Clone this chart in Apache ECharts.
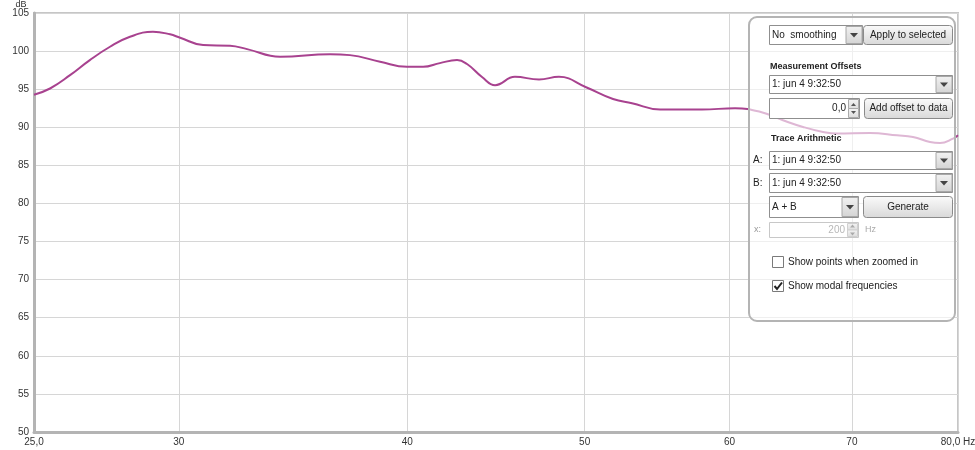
<!DOCTYPE html>
<html>
<head>
<meta charset="utf-8">
<script src="https://cdn.jsdelivr.net/npm/echarts@6/dist/echarts.min.js"></script>
<style>
html,body{margin:0;padding:0;background:#fff;}
#chart{width:975px;height:450px;}
</style>
</head>
<body>
<div id="chart"></div>
<script>
// Frequency (Hz) and SPL (dB)
const freqs = [25, 25.51, 26.16, 26.82, 27.51, 28.21, 29.04, 29.67, 30.05, 30.93, 32.0, 32.69, 34.08, 36.29, 37.21, 38.65, 39.98, 40.8, 41.67, 42.58, 43.12, 43.94, 44.67, 45.8, 47.21, 48.41, 50.09, 51.82, 53.07, 54.98, 57.96, 60.42, 62.35, 64.18, 65.82, 67.5, 68.7, 71.61, 74.09, 75.59, 77.23, 78.21, 79.5, 80];
const spl = [94.28, 95.09, 96.84, 98.82, 100.57, 101.88, 102.54, 102.2, 101.75, 100.79, 100.7, 100.26, 99.25, 99.57, 99.47, 98.59, 97.93, 97.93, 98.42, 98.82, 98.3, 96.6, 95.53, 96.62, 96.28, 96.62, 95.26, 93.71, 93.16, 92.33, 92.33, 92.5, 92.04, 90.92, 90.04, 89.38, 89.17, 89.25, 88.95, 88.72, 88.07, 87.93, 88.51, 88.95];
const xTicks = [25, 30, 40, 50, 60, 70, 80];
const yMin = 50, yMax = 105, yStep = 5;

const chart = echarts.init(document.getElementById('chart'), null, {renderer: 'canvas'});
const FONT = '"Liberation Sans", Arial, sans-serif';
const TXT = '#222';

function grad(c1, c2) {
  return {type: 'linear', x: 0, y: 0, x2: 0, y2: 1, colorStops: [{offset: 0, color: c1}, {offset: 1, color: c2}]};
}
function text(x, y, s, opt) {
  opt = opt || {};
  return {type: 'text', z: 110, style: {x: x, y: y, text: s, fill: opt.fill || TXT,
    font: (opt.bold ? 'bold ' : '') + (opt.size || 10) + 'px ' + FONT,
    align: opt.align || 'left', verticalAlign: 'middle'}};
}
function arrowBtn(x, y, w, h) {
  const cx = x + w / 2, cy = y + h / 2;
  return [
    {type: 'rect', z: 105, shape: {x: x, y: y, width: w, height: h}, style: {fill: grad('#f2f2f2', '#d4d4d4'), stroke: '#a8a8a8', lineWidth: 1}},
    {type: 'polygon', z: 106, shape: {points: [[cx - 4, cy - 2], [cx + 4, cy - 2], [cx, cy + 2.5]]}, style: {fill: '#444'}}
  ];
}
function combo(x, y, w, h, s) {
  return [
    {type: 'rect', z: 104, shape: {x: x + 0.5, y: y + 0.5, width: w, height: h}, style: {fill: '#fff', stroke: '#8f8f8f', lineWidth: 1}},
    text(x + 3, y + h / 2 + 0.5, s)
  ].concat(arrowBtn(x + w - 16, y + 1.5, 16, h - 2));
}
function button(x, y, w, h, s) {
  return [
    {type: 'rect', z: 104, shape: {x: x + 0.5, y: y + 0.5, width: w, height: h, r: 3}, style: {fill: grad('#fbfbfb', '#d8d8d8'), stroke: '#8a8a8a', lineWidth: 1}},
    text(x + w / 2 + 0.5, y + h / 2 + 0.5, s, {align: 'center'})
  ];
}
function spinner(x, y, w, h, s, disabled) {
  const bx = x + w - 11, mid = y + h / 2;
  const col = disabled ? '#c8c8c8' : '#8f8f8f';
  return [
    {type: 'rect', z: 104, shape: {x: x + 0.5, y: y + 0.5, width: w, height: h}, style: {fill: '#fff', stroke: col, lineWidth: 1}},
    text(bx - 2, mid + 0.5, s, {align: 'right', fill: disabled ? '#b8b8b8' : TXT}),
    {type: 'rect', z: 105, shape: {x: bx + 0.5, y: y + 1.5, width: 10, height: h / 2 - 1}, style: {fill: grad('#f4f4f4', '#dcdcdc'), stroke: disabled ? '#d0d0d0' : '#aaa', lineWidth: 1}},
    {type: 'rect', z: 105, shape: {x: bx + 0.5, y: mid + 0.5, width: 10, height: h / 2 - 1}, style: {fill: grad('#f4f4f4', '#dcdcdc'), stroke: disabled ? '#d0d0d0' : '#aaa', lineWidth: 1}},
    {type: 'polygon', z: 106, shape: {points: [[bx + 3, mid - 2], [bx + 8, mid - 2], [bx + 5.5, mid - 5]]}, style: {fill: disabled ? '#aaa' : '#555'}},
    {type: 'polygon', z: 106, shape: {points: [[bx + 3, mid + 3], [bx + 8, mid + 3], [bx + 5.5, mid + 6]]}, style: {fill: disabled ? '#aaa' : '#555'}}
  ];
}
function checkbox(x, y, s, checked) {
  const arr = [
    {type: 'rect', z: 104, shape: {x: x + 0.5, y: y + 0.5, width: 11, height: 11}, style: {fill: '#fff', stroke: '#7a7a7a', lineWidth: 1}},
    text(x + 16, y + 6.5, s)
  ];
  if (checked) {
    arr.push({type: 'polyline', z: 106, shape: {points: [[x + 2.5, y + 6], [x + 5, y + 9], [x + 10, y + 2.5]]}, style: {stroke: '#222', lineWidth: 2, fill: null}});
  }
  return arr;
}

let panel = [
  {type: 'rect', z: 100, shape: {x: 749, y: 17, width: 206, height: 304, r: 8}, style: {fill: 'rgba(255,255,255,0.62)', stroke: '#b4b4b4', lineWidth: 2}}
];
panel = panel
  .concat(combo(769, 25, 93, 19, 'No  smoothing'))
  .concat(button(863, 25, 89, 19, 'Apply to selected'))
  .concat([text(770, 67, 'Measurement Offsets', {bold: true, size: 9})])
  .concat(combo(769, 75, 183, 18, '1: jun 4 9:32:50'))
  .concat(spinner(769, 98, 90, 20, '0,0', false))
  .concat(button(864, 98, 88, 20, 'Add offset to data'))
  .concat([text(771, 139, 'Trace Arithmetic', {bold: true, size: 9})])
  .concat([text(753, 160, 'A:')])
  .concat(combo(769, 151, 183, 18, '1: jun 4 9:32:50'))
  .concat([text(753, 183, 'B:')])
  .concat(combo(769, 173, 183, 19, '1: jun 4 9:32:50'))
  .concat(combo(769, 196, 89, 21, 'A + B'))
  .concat(button(863, 196, 89, 21, 'Generate'))
  .concat([text(754, 229.5, 'x:', {fill: '#999', size: 9})])
  .concat(spinner(769, 222, 89, 15, '200', true))
  .concat([text(865, 229.5, 'Hz', {fill: '#aaa', size: 9})])
  .concat(checkbox(772, 256, 'Show points when zoomed in', false))
  .concat(checkbox(772, 280, 'Show modal frequencies', true))
  .concat([{type: 'text', z: 50, style: {x: 21, y: 5, text: 'dB', fill: '#333', font: '9px ' + FONT, align: 'center', verticalAlign: 'middle'}}]);

const option = {
  animation: false,
  backgroundColor: '#fff',
  grid: {left: 34, right: 17, top: 13, bottom: 18, show: true, borderColor: '#c6c6c6', borderWidth: 2, backgroundColor: 'transparent', containLabel: false, outerBoundsMode: 'none'},
  xAxis: {
    type: 'log', logBase: 10, min: 25, max: 80,
    axisLine: {show: true, lineStyle: {color: '#b4b4b4', width: 3}},
    axisTick: {show: false, customValues: xTicks},
    minorTick: {show: false},
    splitLine: {show: true, lineStyle: {color: '#d6d6d6', width: 1}},
    axisLabel: {
      customValues: xTicks, color: '#333', fontSize: 10, fontFamily: FONT, margin: 5,
      formatter: function (v) {
        const n = Math.round(v);
        if (n === 25) return '25,0';
        if (n === 80) return '80,0 Hz';
        return String(n);
      }
    }
  },
  yAxis: {
    type: 'value', min: yMin, max: yMax, interval: yStep,
    axisLine: {show: true, lineStyle: {color: '#b4b4b4', width: 3}},
    axisTick: {show: false},
    splitLine: {show: true, lineStyle: {color: '#d6d6d6', width: 1}},
    axisLabel: {color: '#333', fontSize: 10, fontFamily: FONT, margin: 5}
  },
  series: [{
    type: 'line',
    data: freqs.map((f, i) => [f, spl[i]]),
    smooth: 0.45,
    showSymbol: false,
    lineStyle: {color: '#a8428f', width: 2},
    z: 5
  }],
  graphic: {elements: panel}
};
chart.setOption(option);
</script>
</body>
</html>
